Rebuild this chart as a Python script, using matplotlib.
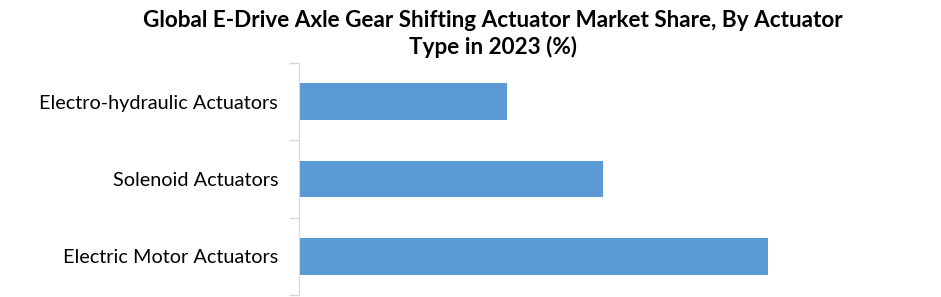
import matplotlib.pyplot as plt

# Market share by actuator type (%)
categories = ['Electric Motor Actuators', 'Solenoid Actuators', 'Electro-hydraulic Actuators']
shares = [46.0, 29.8, 20.4]

barColor = '#5b9bd5'
gridGray = '#d9d9d9'

fig = plt.figure(figsize=(9.41, 2.97), dpi=100)
ax = fig.add_axes([299 / 941, 2 / 297, 601 / 941, 232 / 297])

ax.barh(range(len(categories)), shares, height=0.47, color=barColor)
ax.set_xlim(0, 59.0)
ax.set_ylim(-0.5, len(categories) - 0.5)

# Labels on major ticks, boundary marks on minor ticks
ax.set_yticks(range(len(categories)))
ax.set_yticklabels(categories, fontsize=14.3, family='Lato')
ax.tick_params(axis='y', which='major', length=0, pad=15)
ax.set_yticks([i - 0.5 for i in range(len(categories) + 1)], minor=True)
ax.tick_params(axis='y', which='minor', length=7, color=gridGray, width=1)
ax.set_xticks([])

for side in ['top', 'right', 'bottom']:
    ax.spines[side].set_visible(False)
ax.spines['left'].set_color(gridGray)

fig.text(493 / 941, 0.968, 'Global E-Drive Axle Gear Shifting Actuator Market Share, By Actuator\nType in 2023 (%)',
         ha='center', va='top', fontsize=16.2, fontweight='bold', family='Lato', linespacing=1.3)

fig.savefig('out.png', dpi=100)
